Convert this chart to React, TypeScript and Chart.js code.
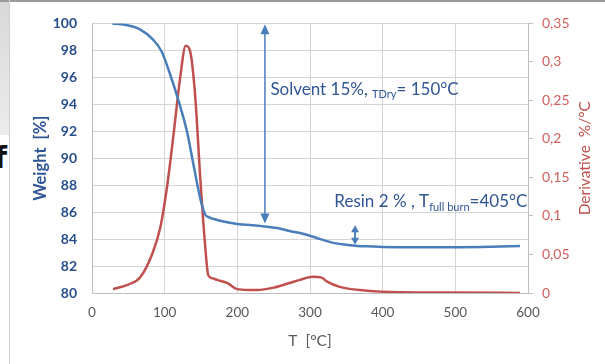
import React, { useEffect, useRef } from "react";
import { Chart, registerables } from "chart.js";

Chart.register(...registerables);

// ---- data ----
const weightTemps = [28, 45, 66, 84, 96, 107, 118, 131, 139, 149, 155.5, 162, 172, 186, 200, 231, 255, 272, 286, 300, 314, 332, 355, 378, 400, 450, 500, 550, 589];
const weightValues = [100, 99.9, 99.56, 98.8, 97.9, 96.3, 94.45, 91.9, 89.7, 87.0, 85.84, 85.6, 85.42, 85.25, 85.12, 84.98, 84.82, 84.6, 84.45, 84.25, 84.0, 83.72, 83.55, 83.46, 83.42, 83.4, 83.4, 83.43, 83.48];

const derivTemps = [29, 50, 66, 83, 94, 103, 111.5, 121, 129, 135, 142, 149, 155.5, 160, 166, 172, 186, 199.5, 215, 227, 250, 272, 286, 304, 316, 323, 341, 378, 424, 500, 589];
const derivValues = [0.005, 0.011, 0.02, 0.051, 0.085, 0.136, 0.2, 0.277, 0.321, 0.314, 0.256, 0.149, 0.064, 0.023, 0.019, 0.017, 0.013, 0.005, 0.004, 0.004, 0.007, 0.013, 0.017, 0.021, 0.02, 0.015, 0.008, 0.003, 0.001, 0.0005, 0];

const xTickValues = [0, 100, 200, 300, 400, 500, 600];
const weightTickValues = [80, 82, 84, 86, 88, 90, 92, 94, 96, 98, 100];
const derivTickLabels = ["0", "0,05", "0,1", "0,15", "0,2", "0,25", "0,3", "0,35"];

// annotations (data coordinates)
const solventArrow = { t: 238, top: 99.93, bottom: 85.15 };
const resinArrow = { t: 362, top: 85.02, bottom: 83.58 };
const solventLabel = { t: 245.5, w: 95.1, parts: [["Solvent 15%, ", false], ["TDry", true], ["= 150°C", false]] as [string, boolean][] };
const resinLabel = { t: 333.5, w: 86.75, parts: [["Resin 2 % , T", false], ["full burn", true], ["=405°C", false]] as [string, boolean][] };

const BLUE = "#4A7EBB";
const RED = "#C0504D";
const TEXT_BLUE = "#2F5597";
const FONT = "Lato, 'Open Sans', sans-serif";

function drawArrowHead(ctx: CanvasRenderingContext2D, x: number, y: number, dir: number, w: number, h: number) {
  ctx.beginPath();
  ctx.moveTo(x, y);
  ctx.lineTo(x - w / 2, y + dir * h);
  ctx.lineTo(x + w / 2, y + dir * h);
  ctx.closePath();
  ctx.fill();
}

const annotationPlugin = {
  id: "annotations",
  afterDatasetsDraw(chart: any) {
    const ctx: CanvasRenderingContext2D = chart.ctx;
    const xs = chart.scales.x;
    const ys = chart.scales.y;
    ctx.save();
    ctx.strokeStyle = BLUE;
    ctx.fillStyle = BLUE;
    ctx.lineWidth = 1.5;
    // big arrow
    {
      const x = xs.getPixelForValue(solventArrow.t);
      const y1 = ys.getPixelForValue(solventArrow.top);
      const y2 = ys.getPixelForValue(solventArrow.bottom);
      ctx.beginPath();
      ctx.moveTo(x, y1 + 8);
      ctx.lineTo(x, y2 - 8);
      ctx.stroke();
      drawArrowHead(ctx, x, y1, 1, 9, 10);
      drawArrowHead(ctx, x, y2, -1, 9, 10);
    }
    // small arrow
    {
      const x = xs.getPixelForValue(resinArrow.t);
      const y1 = ys.getPixelForValue(resinArrow.top);
      const y2 = ys.getPixelForValue(resinArrow.bottom);
      ctx.lineWidth = 2;
      ctx.beginPath();
      ctx.moveTo(x, y1 + 5);
      ctx.lineTo(x, y2 - 5);
      ctx.stroke();
      drawArrowHead(ctx, x, y1, 1, 8, 7);
      drawArrowHead(ctx, x, y2, -1, 8, 7);
    }
    // labels
    const drawRich = (lab: { t: number; w: number; parts: [string, boolean][] }) => {
      let x = xs.getPixelForValue(lab.t);
      const y = ys.getPixelForValue(lab.w);
      ctx.fillStyle = TEXT_BLUE;
      ctx.textBaseline = "middle";
      ctx.textAlign = "left";
      for (const [txt, sub] of lab.parts) {
        ctx.font = sub ? `11px ${FONT}` : `17px ${FONT}`;
        ctx.fillText(txt, x, sub ? y + 5 : y);
        x += ctx.measureText(txt).width;
      }
    };
    drawRich(solventLabel);
    drawRich(resinLabel);

    // right axis title (reads bottom to top)
    const y1s = chart.scales.y1;
    ctx.save();
    ctx.translate(y1s.right - 20, (chart.chartArea.top + chart.chartArea.bottom) / 2);
    ctx.rotate(-Math.PI / 2);
    ctx.font = `15.5px ${FONT}`;
    ctx.fillStyle = RED;
    ctx.textAlign = "center";
    ctx.textBaseline = "middle";
    ctx.fillText("Derivative  %/°C", 0, 0);
    ctx.restore();
    ctx.restore();
  },
};

export default function App() {
  const ref = useRef<HTMLCanvasElement | null>(null);

  useEffect(() => {
    if (!ref.current) return;
    const chart = new Chart(ref.current, {
      type: "line",
      data: {
        datasets: [
          {
            label: "Weight",
            data: weightTemps.map((t, i) => ({ x: t, y: weightValues[i] })),
            borderColor: BLUE,
            borderWidth: 2.5,
            pointRadius: 0,
            cubicInterpolationMode: "monotone",
            yAxisID: "y",
          },
          {
            label: "Derivative",
            data: derivTemps.map((t, i) => ({ x: t, y: derivValues[i] })),
            borderColor: RED,
            borderWidth: 2.5,
            pointRadius: 0,
            cubicInterpolationMode: "monotone",
            yAxisID: "y1",
          },
        ],
      },
      options: {
        animation: false,
        responsive: false,
        maintainAspectRatio: false,
        layout: { padding: { top: 20, left: 0, right: 0, bottom: 0 } },
        plugins: { legend: { display: false }, tooltip: { enabled: false } },
        scales: {
          x: {
            type: "linear",
            min: 0,
            max: 600,
            afterBuildTicks: (s: any) => {
              s.ticks = xTickValues.map((v) => ({ value: v }));
            },
            ticks: { color: "#595959", font: { family: FONT, size: 13.5 }, padding: 12 },
            grid: { color: "#d4d4d4", drawTicks: false },
            border: { color: "#bfbfbf" },
            title: {
              display: true,
              text: "T  [°C]",
              color: "#595959",
              font: { family: FONT, size: 15.5 },
              padding: { top: 0, bottom: 14 },
            },
            afterFit: (s: any) => {
              s.height = 71;
            },
          },
          y: {
            position: "left",
            min: 80,
            max: 100,
            afterBuildTicks: (s: any) => {
              s.ticks = weightTickValues.map((v) => ({ value: v }));
            },
            ticks: { color: "#264F8C", font: { family: FONT, size: 14, weight: "bold" }, padding: 15 },
            grid: { color: "#d4d4d4", drawTicks: false },
            border: { color: "#bfbfbf" },
            title: {
              display: true,
              text: "Weight  [%]",
              color: "#2F5597",
              font: { family: FONT, size: 16.5, weight: "bold" },
              padding: { top: 21, bottom: 0 },
            },
            afterFit: (s: any) => {
              s.width = 82;
            },
          },
          y1: {
            position: "right",
            min: 0,
            max: 0.35,
            afterBuildTicks: (s: any) => {
              s.ticks = derivTickLabels.map((_, i) => ({ value: i * 0.05 }));
            },
            ticks: {
              color: "#D0605C",
              font: { family: FONT, size: 14 },
              padding: 9,
              callback: (_v: any, i: number) => derivTickLabels[i],
            },
            grid: { drawOnChartArea: false, tickLength: 5, color: "#bfbfbf" },
            border: { color: "#bfbfbf" },
            afterFit: (s: any) => {
              s.width = 77;
            },
          },
        },
      },
      plugins: [annotationPlugin],
    } as any);
    return () => chart.destroy();
  }, []);

  return (
    <div style={{ position: "fixed", left: 0, top: 0, width: 605, height: 364, background: "#fff", overflow: "hidden" }}>
      <div style={{ position: "absolute", left: 0, top: 0, width: 9, height: 135, background: "linear-gradient(#d8d8d8, #ececec)" }} />
      <div style={{ position: "absolute", left: 0, top: 0, width: 605, height: 2, background: "#9a9a9a" }} />
      <div style={{ position: "absolute", left: 9, top: 0, width: 1, height: 364, background: "#d0d0d0" }} />
      <div style={{ position: "absolute", left: -6, top: 140, fontFamily: "'DejaVu Sans', sans-serif", fontWeight: "bold", fontSize: 30, color: "#111", lineHeight: "36px" }}>f</div>
      <canvas ref={ref} width={595} height={364} style={{ position: "absolute", left: 10, top: 0, width: 595, height: 364 }} />
    </div>
  );
}
